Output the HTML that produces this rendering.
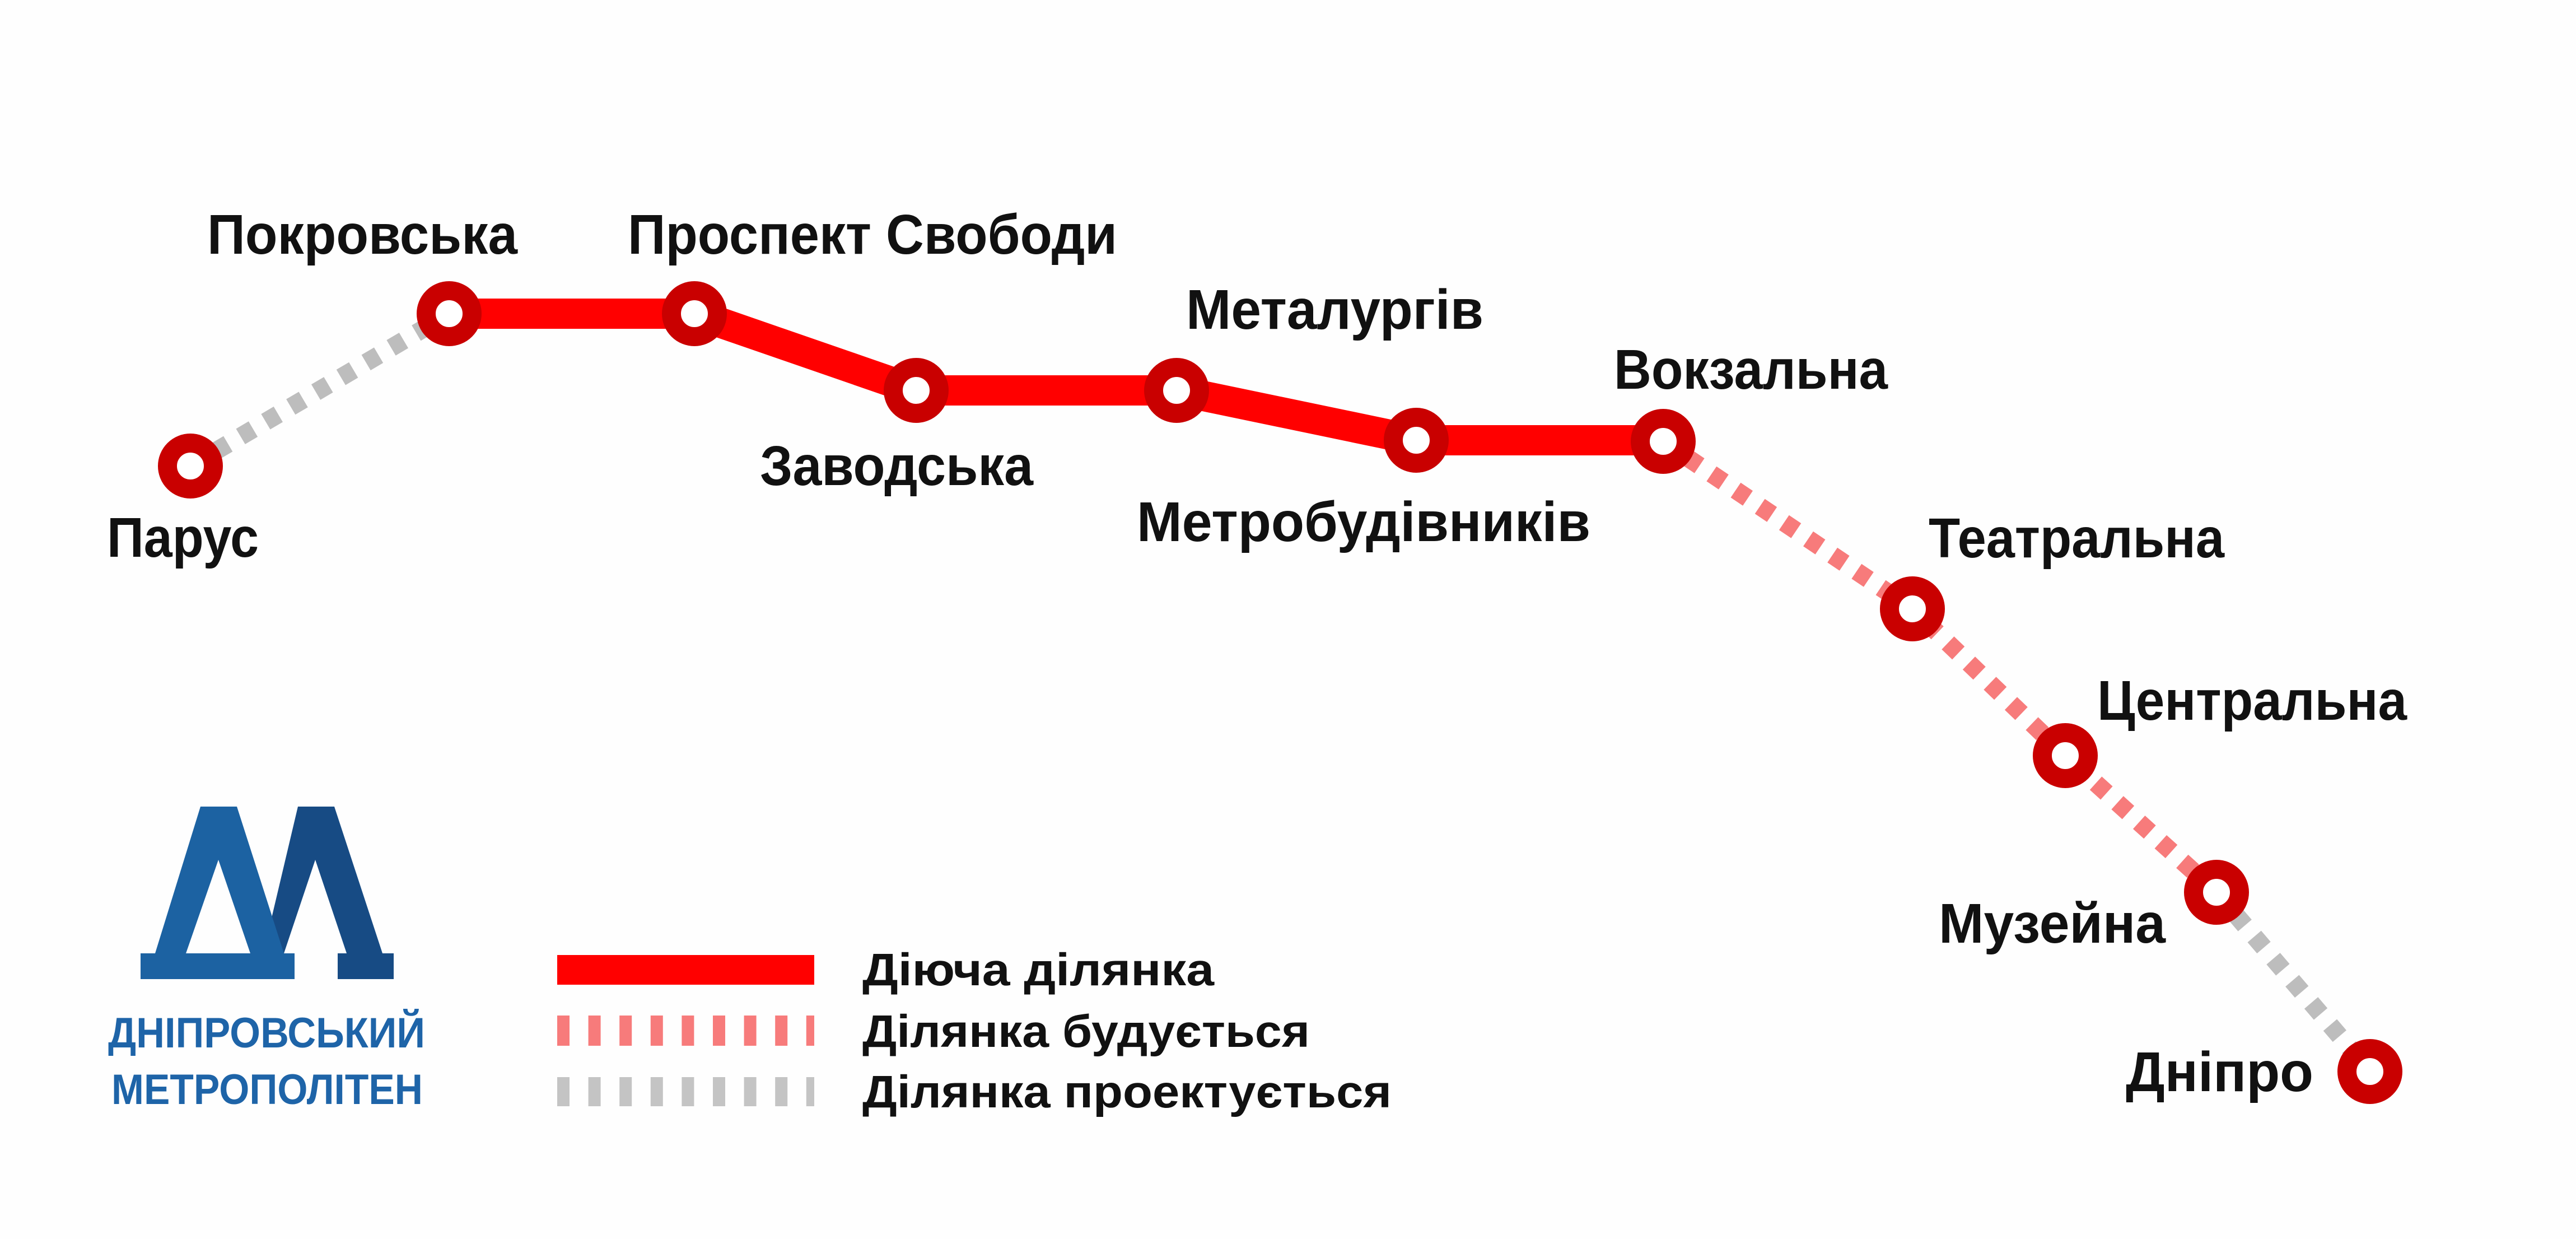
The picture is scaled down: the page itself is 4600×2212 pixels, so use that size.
<!DOCTYPE html>
<html><head><meta charset="utf-8"><style>
html,body{margin:0;padding:0;background:#fefefe;}
svg{display:block;}
text{font-family:"Liberation Sans","DejaVu Sans",sans-serif;font-weight:bold;fill:#111;}
</style></head><body>
<svg width="4600" height="2212" viewBox="0 0 4600 2212" xmlns="http://www.w3.org/2000/svg">
<rect width="4600" height="2212" fill="#fefefe"/>
<g fill="none" stroke-width="32" stroke-dasharray="26 26">
<polyline points="340,832 802,560" stroke="#bdbdbd"/>
<polyline points="2970,788 3415,1087 3688,1349 3958,1593" stroke="#f77b7b"/>
<polyline points="3958,1593 4232,1913" stroke="#bdbdbd"/>
</g>
<polyline points="802,560 1240,560 1636,697 2101,697 2529,786 2970,786" fill="none" stroke="#ff0000" stroke-width="54" stroke-linejoin="round"/>
<g fill="#fff" stroke="#c90000" stroke-width="34">
<circle cx="340" cy="832" r="41"/>
<circle cx="802" cy="560" r="41"/>
<circle cx="1240" cy="560" r="41"/>
<circle cx="1636" cy="697" r="41"/>
<circle cx="2101" cy="697" r="41"/>
<circle cx="2529" cy="786" r="41"/>
<circle cx="2970" cy="788" r="41"/>
<circle cx="3415" cy="1087" r="41"/>
<circle cx="3688" cy="1349" r="41"/>
<circle cx="3958" cy="1593" r="41"/>
<circle cx="4232" cy="1913" r="41"/>
</g>
<g font-size="100">
<text x="370" y="453" textLength="554" lengthAdjust="spacingAndGlyphs">Покровська</text>
<text x="1121" y="453" textLength="874" lengthAdjust="spacingAndGlyphs">Проспект Свободи</text>
<text x="2118" y="587" textLength="531" lengthAdjust="spacingAndGlyphs">Металургів</text>
<text x="2882" y="694" textLength="489" lengthAdjust="spacingAndGlyphs">Вокзальна</text>
<text x="1357" y="866" textLength="488" lengthAdjust="spacingAndGlyphs">Заводська</text>
<text x="2030" y="966" textLength="810" lengthAdjust="spacingAndGlyphs">Метробудівників</text>
<text x="191" y="994" textLength="271" lengthAdjust="spacingAndGlyphs">Парус</text>
<text x="3444" y="995" textLength="528" lengthAdjust="spacingAndGlyphs">Театральна</text>
<text x="3745" y="1285" textLength="553" lengthAdjust="spacingAndGlyphs">Центральна</text>
<text x="3462" y="1683" textLength="405" lengthAdjust="spacingAndGlyphs">Музейна</text>
<text x="3796" y="1948" textLength="335" lengthAdjust="spacingAndGlyphs">Дніпро</text>
</g>
<rect x="995" y="1705" width="459" height="53" fill="#ff0000"/>
<line x1="995" y1="1840" x2="1454" y2="1840" stroke="#f77b7b" stroke-width="54" stroke-dasharray="22 33.6"/>
<line x1="995" y1="1949" x2="1454" y2="1949" stroke="#c4c4c4" stroke-width="52" stroke-dasharray="22 33.6"/>
<g font-size="82">
<text x="1540" y="1759" textLength="628" lengthAdjust="spacingAndGlyphs">Діюча ділянка</text>
<text x="1540" y="1869" textLength="799" lengthAdjust="spacingAndGlyphs">Ділянка будується</text>
<text x="1540" y="1977" textLength="945" lengthAdjust="spacingAndGlyphs">Ділянка проектується</text>
</g>
<path fill="#174b84" d="M532,1440 L597,1440 L683,1702 L703,1702 L703,1748 L603,1748 L603,1702 L619,1702 L563,1535 L507,1702 L470,1702 Z"/>
<path fill="#1c62a2" fill-rule="evenodd" d="M358,1440 L423,1440 L507,1702 L526,1702 L526,1748 L251,1748 L251,1702 L277,1702 Z M390,1535 L332,1702 L447,1702 Z"/>
<g font-size="76">
<text x="193" y="1870" textLength="566" lengthAdjust="spacingAndGlyphs" style="fill:#1e64a8">ДНІПРОВСЬКИЙ</text>
<text x="199" y="1971" textLength="556" lengthAdjust="spacingAndGlyphs" style="fill:#1e64a8">МЕТРОПОЛІТЕН</text>
</g>
</svg>
</body></html>
